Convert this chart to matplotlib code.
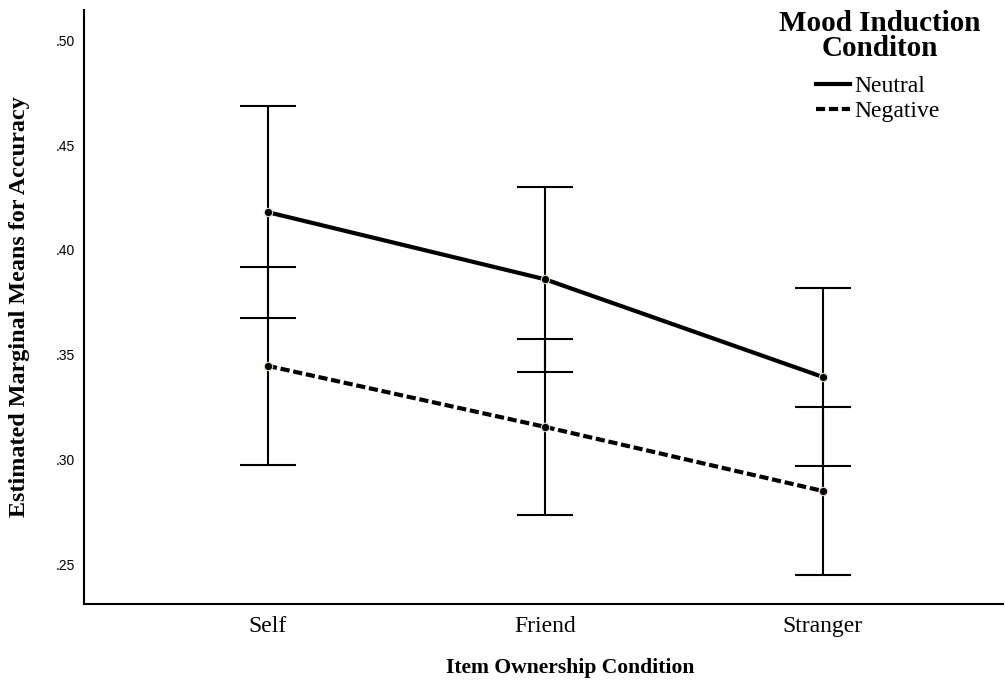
import numpy as np
import matplotlib.pyplot as plt
from matplotlib.lines import Line2D
from matplotlib.ticker import FuncFormatter

categories = ['Self', 'Friend', 'Stranger']
neutral_means = [0.418, 0.386, 0.3395]
neutral_err = [0.0505, 0.044, 0.0424]
negative_means = [0.3448, 0.3157, 0.2852]
negative_err = [0.0472, 0.0419, 0.040]
yticks = [0.25, 0.30, 0.35, 0.40, 0.45, 0.50]

serif = 'Liberation Serif'
dash = (0, (2.2, 0.9))
x = np.arange(len(categories))

fig = plt.figure(figsize=(10.05, 6.81), dpi=100)
ax = fig.add_axes([0.0836, 0.1131, 0.9144, 0.8722])

# error bars first so the means sit on top
ax.errorbar(x, neutral_means, yerr=neutral_err, fmt='none', ecolor='black',
            elinewidth=1.5, capsize=20, capthick=1.5, zorder=2)
ax.errorbar(x, negative_means, yerr=negative_err, fmt='none', ecolor='black',
            elinewidth=1.5, capsize=20, capthick=1.5, zorder=2)

ax.plot(x, neutral_means, color='black', lw=3, ls='-', marker='o', ms=6,
        mfc='black', mec='#e8dcc0', mew=0.8, zorder=3)
ax.plot(x, negative_means, color='black', lw=3, ls=dash, marker='o', ms=6,
        mfc='black', mec='#e8dcc0', mew=0.8, zorder=3)

ax.set_xlim(-0.663, 2.649)
ax.set_ylim(0.2314, 0.5143)
ax.set_xticks(x)
ax.set_xticklabels(categories, fontfamily=serif, fontsize=17)
ax.set_yticks(yticks)
ax.yaxis.set_major_formatter(FuncFormatter(lambda v, p: ('%.2f' % v).lstrip('0')))
for lab in ax.get_yticklabels():
    lab.set_fontfamily('Liberation Sans')
    lab.set_fontsize(10)
ax.tick_params(axis='both', length=0)
ax.tick_params(axis='x', pad=9)
ax.tick_params(axis='y', pad=6.5)

ax.spines['top'].set_visible(False)
ax.spines['right'].set_visible(False)
ax.spines['left'].set_linewidth(1.5)
ax.spines['bottom'].set_linewidth(1.5)

fig.text(570 / 1005, 1 - 668 / 681, 'Item Ownership Condition', fontfamily=serif,
         fontweight='bold', fontsize=15.6, ha='center', va='center')
fig.text(20 / 1005, 1 - 307 / 681, 'Estimated Marginal Means for Accuracy',
         fontfamily=serif, fontweight='bold', fontsize=17.4, rotation=90,
         ha='center', va='center')

# legend title drawn separately so it can sit centred above the entries
fig.text(880 / 1005, 1 - 36 / 681, 'Mood Induction\nConditon', fontfamily=serif,
         fontweight='bold', fontsize=21, ha='center', va='center',
         linespacing=0.95, multialignment='center')

handles = [Line2D([], [], color='black', lw=3, ls='-'),
           Line2D([], [], color='black', lw=3, ls=dash)]
leg = ax.legend(handles, ['Neutral', 'Negative'], loc='upper left',
                bbox_to_anchor=(0.7834, 0.9091), frameon=False, borderpad=0,
                prop={'family': serif, 'size': 17}, handlelength=1.45,
                handletextpad=0.2, labelspacing=0.15)

fig.savefig('out.png', dpi=100)
